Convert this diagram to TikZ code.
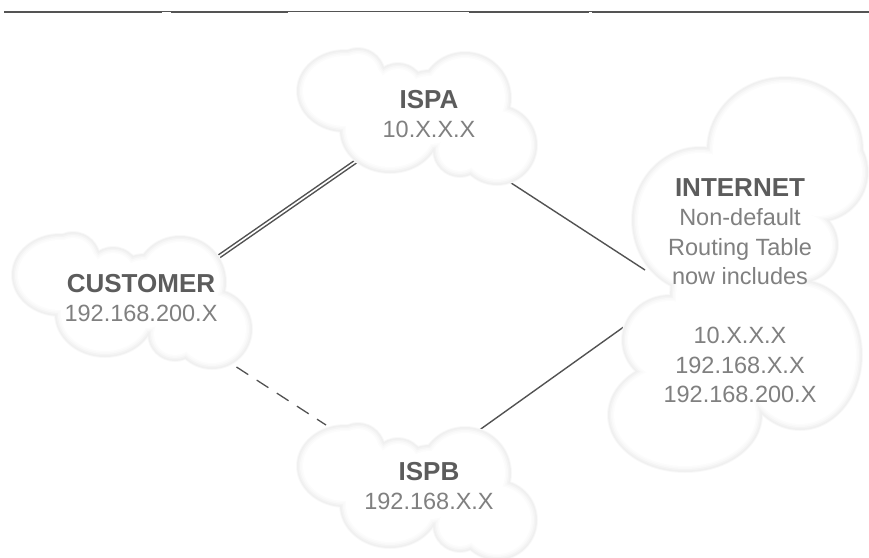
\documentclass[tikz,border=0pt]{standalone}
\usepackage{fontspec}
\setmainfont{Liberation Sans}
\pgfdeclarelayer{linelayer}
\pgfdeclarelayer{cloudlayer}
\pgfsetlayers{linelayer,cloudlayer,main}
\definecolor{rulegray}{gray}{0.33}
\definecolor{linkgray}{gray}{0.32}
\definecolor{boldgray}{gray}{0.36}
\definecolor{thingray}{gray}{0.5}
\tikzset{
  port/.style={inner sep=0pt,minimum size=0pt,outer sep=0pt},
  link/.style={draw=linkgray,line width=1.4pt},
  doublelink/.style={draw=linkgray,line width=1.5pt,double=white,double distance=1.6pt,line cap=butt},
  dashlink/.style={draw=linkgray,line width=1.3pt,dash pattern=on 14pt off 10pt},
  label/.style={text=thingray,align=center,inner sep=0pt,font=\fontsize{23.5}{29.5}\selectfont},
  thickrule/.style={draw=rulegray,line width=2pt},
  thinrule/.style={draw=rulegray,line width=1pt},
}
\newcommand{\bigname}[1]{{\fontsize{26}{29.5}\selectfont\bfseries\textcolor{boldgray}{#1}}}
% \cloudlobes{list of x/y/rx/ry}: union of ellipses with a soft grey rim
\newcommand{\cloudlobes}[1]{%
  \foreach \lobex/\lobey/\lobea/\lobeb in {#1}{\fill[black!2.5] (\lobex,\lobey) ellipse [x radius=\lobea+1,y radius=\lobeb+1];}%
  \foreach \lobex/\lobey/\lobea/\lobeb in {#1}{\fill[black!6] (\lobex,\lobey) ellipse [x radius=\lobea,y radius=\lobeb];}%
  \foreach \lobex/\lobey/\lobea/\lobeb in {#1}{\fill[black!4.5] (\lobex,\lobey) ellipse [x radius=\lobea-1.5,y radius=\lobeb-1.5];}%
  \foreach \lobex/\lobey/\lobea/\lobeb in {#1}{\fill[black!2.5] (\lobex,\lobey) ellipse [x radius=\lobea-3,y radius=\lobeb-3];}%
  \foreach \lobex/\lobey/\lobea/\lobeb in {#1}{\fill[black!1] (\lobex,\lobey) ellipse [x radius=\lobea-4.5,y radius=\lobeb-4.5];}%
  \foreach \lobex/\lobey/\lobea/\lobeb in {#1}{\fill[white] (\lobex,\lobey) ellipse [x radius=\lobea-6,y radius=\lobeb-6];}%
}
\newcommand{\ispcloud}{\cloudlobes{345/91/48/41,358/75/27/27,398/90/27/27,465/98/46/46,497/145/40/40,390/130/50/43,460/150/27/27,430/110/40/40}}
\begin{document}
\begin{tikzpicture}[x=1pt,y=-1pt]
\useasboundingbox (0,0) rectangle (869,557);
% top rule: a thin line, thickened along most of its length
\draw[thinrule] (4,11.5) -- (869,11.5);
\draw[thickrule] (4,12) -- (162,12);
\draw[thickrule] (171,12) -- (288,12);
\draw[thickrule] (469,12) -- (589,12);
\draw[thickrule] (592,12) -- (869,12);
% text
\node[label] (ispa) at (429,114) {\bigname{ISPA}\\10.X.X.X};
\node[label] (customer) at (141,298) {\bigname{CUSTOMER}\\192.168.200.X};
\node[label] (ispb) at (429,486) {\bigname{ISPB}\\192.168.X.X};
\node[label] (internet) at (740,290.5) {\bigname{INTERNET}\\Non-default\\Routing Table\\now includes\\[29.5pt]10.X.X.X\\192.168.X.X\\192.168.200.X};
% connector ends, just inside the cloud rims
\node[port] (ispaSW) at (358,160) {};
\node[port] (customerNE) at (216,258.5) {};
\node[port] (ispaSE) at (505,179) {};
\node[port] (internetU) at (645,270) {};
\node[port] (customerSE) at (236.5,367) {};
\node[port] (ispbNW) at (326,425) {};
\node[port] (ispbNE) at (478,431) {};
\node[port] (internetL) at (632,321) {};
\begin{pgfonlayer}{linelayer}
\draw[doublelink] (customerNE) -- (ispaSW);
\draw[link] (ispaSE) -- (internetU);
\draw[dashlink] (customerSE) -- (ispbNW);
\draw[link] (ispbNE) -- (internetL);
\end{pgfonlayer}
\begin{pgfonlayer}{cloudlayer}
\ispcloud
\begin{scope}[shift={(-285,184)}]\ispcloud\end{scope}
\begin{scope}[shift={(0,375)}]\ispcloud\end{scope}
\cloudlobes{785/150/78/73,818/172/50/50,700/220/68/73,800/245/38/38,800/355/62/75,670/340/48/45,685/415/77/57,740/300/70/110}
\end{pgfonlayer}
\end{tikzpicture}
\end{document}
